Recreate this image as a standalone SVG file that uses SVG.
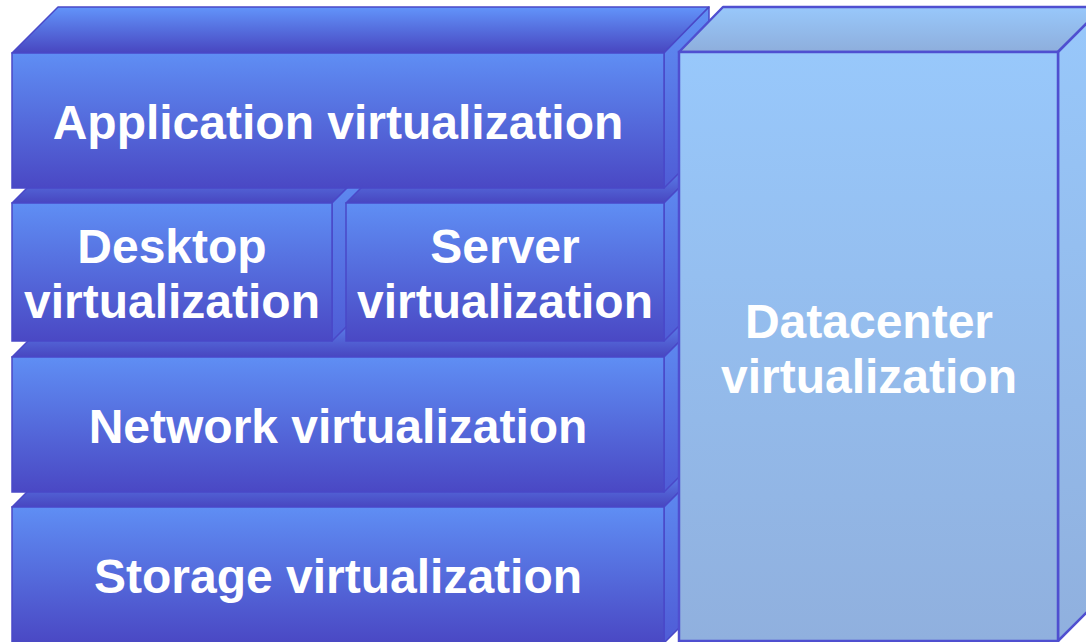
<svg xmlns="http://www.w3.org/2000/svg" width="1086" height="642" viewBox="0 0 1086 642">
  <defs>
    <linearGradient id="bFront" x1="0" y1="0" x2="0" y2="1">
      <stop offset="0" stop-color="#5f8ef4"/>
      <stop offset="1" stop-color="#4a48c4"/>
    </linearGradient>
    <linearGradient id="bTop" x1="0" y1="0" x2="0" y2="1">
      <stop offset="0" stop-color="#6294fa"/>
      <stop offset="1" stop-color="#4846c0"/>
    </linearGradient>
    <linearGradient id="bSide" x1="0" y1="0" x2="0" y2="1">
      <stop offset="0" stop-color="#6090f4"/>
      <stop offset="1" stop-color="#4f5cd6"/>
    </linearGradient>
    <linearGradient id="dFront" x1="0" y1="0" x2="0" y2="1">
      <stop offset="0" stop-color="#98c8fb"/>
      <stop offset="1" stop-color="#90b0de"/>
    </linearGradient>
    <linearGradient id="dTop" x1="0" y1="0" x2="0" y2="1">
      <stop offset="0" stop-color="#98c8fb"/>
      <stop offset="1" stop-color="#8eaedc"/>
    </linearGradient>
  </defs>
  <style>
    .bf { fill: url(#bFront); stroke: #4a48c8; stroke-width: 1.5; }
    .bt { fill: url(#bTop); stroke: #4a48c8; stroke-width: 1.5; stroke-linejoin: round; }
    .bs { fill: url(#bSide); stroke: #4a48c8; stroke-width: 1.5; stroke-linejoin: round; }
    .df { fill: url(#dFront); stroke: #4f4fd0; stroke-width: 2.5; }
    .dt { fill: url(#dTop); stroke: #4f4fd0; stroke-width: 2.5; stroke-linejoin: round; }
    .ds { fill: url(#dFront); stroke: #4f4fd0; stroke-width: 2.5; stroke-linejoin: round; }
    .lbl { font-family: "Liberation Sans", Arial, sans-serif; font-weight: bold; font-size: 48px; fill: #ffffff; text-anchor: middle; }
  </style>

  <g id="storage">
    <polygon class="bt" points="12,507 57,462 709,462 664,507"/>
    <polygon class="bs" points="664,507 709,462 709,598 664,643"/>
    <rect class="bf" x="12" y="507" width="652" height="136"/>
    <text class="lbl" x="338" y="593">Storage virtualization</text>
  </g>

  <g id="network">
    <polygon class="bt" points="12,357 57,312 709,312 664,357"/>
    <polygon class="bs" points="664,357 709,312 709,447 664,492"/>
    <rect class="bf" x="12" y="357" width="652" height="135"/>
    <text class="lbl" x="338" y="443">Network virtualization</text>
  </g>

  <g id="desktop">
    <polygon class="bt" points="12,203 57,158 377,158 332,203"/>
    <polygon class="bs" points="332,203 377,158 377,296 332,341"/>
    <rect class="bf" x="12" y="203" width="320" height="138"/>
    <text class="lbl" x="172" y="263">Desktop</text>
    <text class="lbl" x="172" y="318">virtualization</text>
  </g>

  <g id="server">
    <polygon class="bt" points="346,203 391,158 709,158 664,203"/>
    <polygon class="bs" points="664,203 709,158 709,296 664,341"/>
    <rect class="bf" x="346" y="203" width="318" height="138"/>
    <text class="lbl" x="505" y="263">Server</text>
    <text class="lbl" x="505" y="318">virtualization</text>
  </g>

  <g id="application">
    <polygon class="bt" points="12,53 58,7 709,7 664,53"/>
    <polygon class="bs" points="664,53 709,7 709,143 664,188"/>
    <rect class="bf" x="12" y="53" width="652" height="135"/>
    <text class="lbl" x="338" y="139">Application virtualization</text>
  </g>

  <g id="datacenter">
    <polygon class="dt" points="679,52 723,7 1103,7 1058,52"/>
    <polygon class="ds" points="1058,52 1103,7 1103,596 1058,641"/>
    <rect class="df" x="679" y="52" width="379" height="589"/>
    <text class="lbl" x="869" y="338">Datacenter</text>
    <text class="lbl" x="869" y="393">virtualization</text>
  </g>

  <g id="connectors"/>
</svg>
